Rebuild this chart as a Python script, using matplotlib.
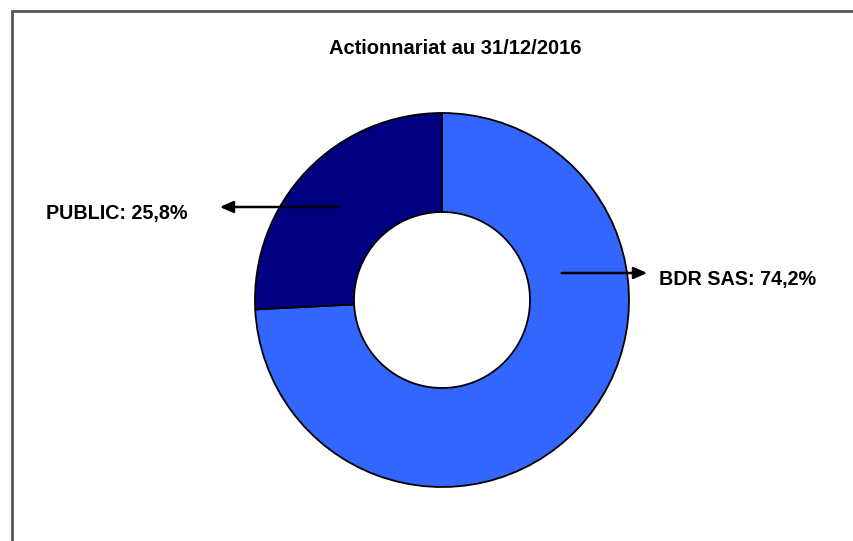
import matplotlib
matplotlib.use("Agg")
import matplotlib.pyplot as plt

labels = ["BDR SAS", "PUBLIC"]
values = [74.2, 25.8]
colors = ["#3366FF", "#000080"]
title = "Actionnariat au 31/12/2016"

W, H = 854, 541
fig = plt.figure(figsize=(W/100, H/100), dpi=100)
ax = fig.add_axes([0, 0, 1, 1])

def Y(y):
    return H - y

cx, cy, R, r = 442, 300, 187, 88
ax.pie(values, colors=colors, startangle=90, counterclock=False,
       center=(cx, Y(cy)), radius=R, frame=True,
       wedgeprops=dict(width=R - r, edgecolor="black", linewidth=1.3))
ax.set_xlim(0, W)
ax.set_ylim(0, H)
ax.set_aspect("equal")
ax.axis("off")

# frame (top and left edges only visible)
ax.plot([12, 12, W], [0, Y(11), Y(11)], color="#555555", linewidth=2, solid_joinstyle="miter")

font = dict(family=["Liberation Sans", "DejaVu Sans"], weight="bold")
ax.text(455, Y(48), title, ha="center", va="center", fontsize=14.5, **font)

ax.annotate("", xy=(217, Y(207)), xytext=(342, Y(207)),
            arrowprops=dict(arrowstyle="-|>,head_length=0.8,head_width=0.35", color="black", lw=1.8))
ax.text(46, Y(213), f"{labels[1]}: {values[1]:.1f}%".replace(".", ","), ha="left", va="center",
        fontsize=14.2, **font)

ax.annotate("", xy=(650, Y(273)), xytext=(559, Y(273)),
            arrowprops=dict(arrowstyle="-|>,head_length=0.8,head_width=0.35", color="black", lw=1.8))
ax.text(659, Y(280), f"{labels[0]}: {values[0]:.1f}%".replace(".", ","), ha="left", va="center",
        fontsize=14.2, **font)

fig.savefig("out.png", dpi=100)
